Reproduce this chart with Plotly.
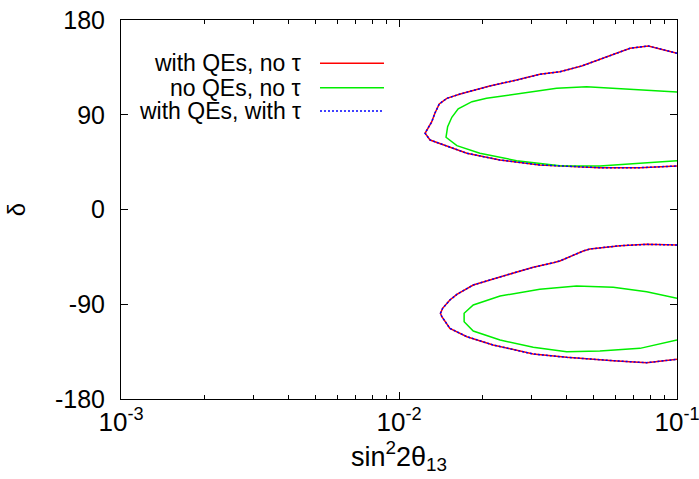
import plotly.graph_objects as go

# ---- data ----
up_red_x = [0.1, 0.0789, 0.0678, 0.0558, 0.0454, 0.0379, 0.0321, 0.0265, 0.0212, 0.0166, 0.01486,
            0.01396, 0.01346, 0.01312, 0.01241, 0.01294, 0.01442, 0.01755, 0.02307, 0.0321, 0.0528,
            0.0736, 0.1]
up_red_y = [148.4, 155.3, 153.1, 145.2, 136.3, 130.9, 128.4, 123.0, 117.3, 109.7, 105.6,
            100.2, 91.4, 83.4, 72.4, 66.0, 61.3, 53.4, 47.0, 42.3, 39.7,
            39.7, 41.3]

up_green_x = [0.1, 0.0697, 0.0473, 0.0369, 0.0288, 0.02065, 0.0183, 0.01633, 0.01549, 0.01496,
              0.01476, 0.01615, 0.01954, 0.0265, 0.0379, 0.0528, 0.0736, 0.1]
up_green_y = [111.6, 114.1, 116.7, 115.1, 111.0, 105.6, 102.4, 95.7, 87.6, 78.7,
              68.6, 60.6, 53.4, 46.4, 41.6, 41.3, 43.9, 46.4]

lo_red_x = [0.1, 0.0778, 0.0624, 0.0486, 0.0460, 0.0379, 0.0359, 0.0304, 0.0244, 0.0185, 0.01615,
            0.01524, 0.01435, 0.01410, 0.01426, 0.01524, 0.01755, 0.0218, 0.0304, 0.0401, 0.0590,
            0.0778, 0.1]
lo_red_y = [-33.7, -33.1, -34.4, -37.5, -39.4, -48.9, -50.6, -54.9, -62.2, -71.7, -80.6,
            -86.0, -93.9, -98.6, -101.8, -112.9, -120.8, -128.7, -137.3, -140.4, -143.6,
            -145.5, -142.3]

lo_green_x = [0.1, 0.0778, 0.0590, 0.0435, 0.0321, 0.0231, 0.0185, 0.01715, 0.01715, 0.0185,
              0.0231, 0.0304, 0.0401, 0.0528, 0.0736, 0.1]
lo_green_y = [-84.4, -78.1, -73.9, -72.7, -75.8, -82.2, -90.7, -98.6, -106.6, -115.4,
              -124.0, -130.9, -135.1, -134.4, -131.9, -124.0]

legend_labels = ["with QEs, no τ", "no QEs, no τ", "with QEs, with τ"]
x_major = [0.001, 0.01, 0.1]
x_major_text = ["10<sup>-3</sup>", "10<sup>-2</sup>", "10<sup>-1</sup>"]
x_minor = [m * d for d in (0.001, 0.01) for m in range(2, 10)]
y_ticks = [-180, -90, 0, 90, 180]
y_tick_text = ["-180", "-90", "0", "90", "180"]

RED = "#ff0000"
GREEN = "#00ee00"
BLUE = "#0000ff"
FONT = "Liberation Sans, Arial, sans-serif"

fig = go.Figure()
# red: with QEs, no tau
for xs, ys in ((up_red_x, up_red_y), (lo_red_x, lo_red_y)):
    fig.add_trace(go.Scatter(x=xs, y=ys, mode="lines", line=dict(color=RED, width=1.5),
                             showlegend=False, hoverinfo="skip"))
# green: no QEs, no tau
for xs, ys in ((up_green_x, up_green_y), (lo_green_x, lo_green_y)):
    fig.add_trace(go.Scatter(x=xs, y=ys, mode="lines", line=dict(color=GREEN, width=1.5),
                             showlegend=False, hoverinfo="skip"))
# blue dotted: with QEs, with tau (coincides with red)
for xs, ys in ((up_red_x, up_red_y), (lo_red_x, lo_red_y)):
    fig.add_trace(go.Scatter(x=xs, y=ys, mode="lines",
                             line=dict(color=BLUE, width=1.5, dash="2px,2px"),
                             showlegend=False, hoverinfo="skip"))

# legend drawn gnuplot-style: text right-aligned, sample line to the right
leg_rows = [0.8857, 0.8214, 0.7599]
leg_styles = [dict(color=RED, width=1.5), dict(color=GREEN, width=1.5),
              dict(color=BLUE, width=1.5, dash="2px,2px")]
for lab, yy, st in zip(legend_labels, leg_rows, leg_styles):
    fig.add_annotation(x=0.3273, y=yy, xref="paper", yref="paper", text=lab,
                       showarrow=False, xanchor="right", yanchor="middle",
                       font=dict(family=FONT, size=23, color="black"))
    fig.add_shape(type="line", xref="paper", yref="paper", x0=0.3579, x1=0.4730,
                  y0=yy, y1=yy, line=st)

fig.update_xaxes(type="log", range=[-3, -1], tickvals=x_major, ticktext=x_major_text,
                 ticks="inside", ticklen=7, tickcolor="black", tickwidth=1,
                 minor=dict(tickvals=x_minor, ticks="inside", ticklen=4, tickcolor="black"),
                 showline=True, linecolor="black", linewidth=1, mirror="ticks",
                 showgrid=False, zeroline=False, automargin=False,
                 ticklabeloverflow="allow",
                 tickfont=dict(family=FONT, size=26, color="black"),
                 title=dict(text="sin<sup>2</sup>2θ<sub>13</sub>", standoff=4,
                            font=dict(family=FONT, size=27, color="black")))
fig.update_yaxes(range=[-180, 180], tickvals=y_ticks, ticktext=y_tick_text,
                 ticks="inside", ticklen=7,
                 tickcolor="black", tickwidth=1,
                 showline=True, linecolor="black", linewidth=1, mirror="ticks",
                 showgrid=False, zeroline=False, ticklabelstandoff=10, automargin=False,
                 ticklabeloverflow="allow",
                 tickfont=dict(family=FONT, size=25, color="black"),
                 title=dict(text="δ", standoff=22,
                            font=dict(family=FONT, size=24, color="black")))

fig.update_layout(width=699, height=479, margin=dict(l=121, r=22, t=20, b=80),
                  paper_bgcolor="white", plot_bgcolor="white", showlegend=False)

fig.write_html("out.html", config={"displayModeBar": False},
               post_script="document.body.style.margin='0';")
